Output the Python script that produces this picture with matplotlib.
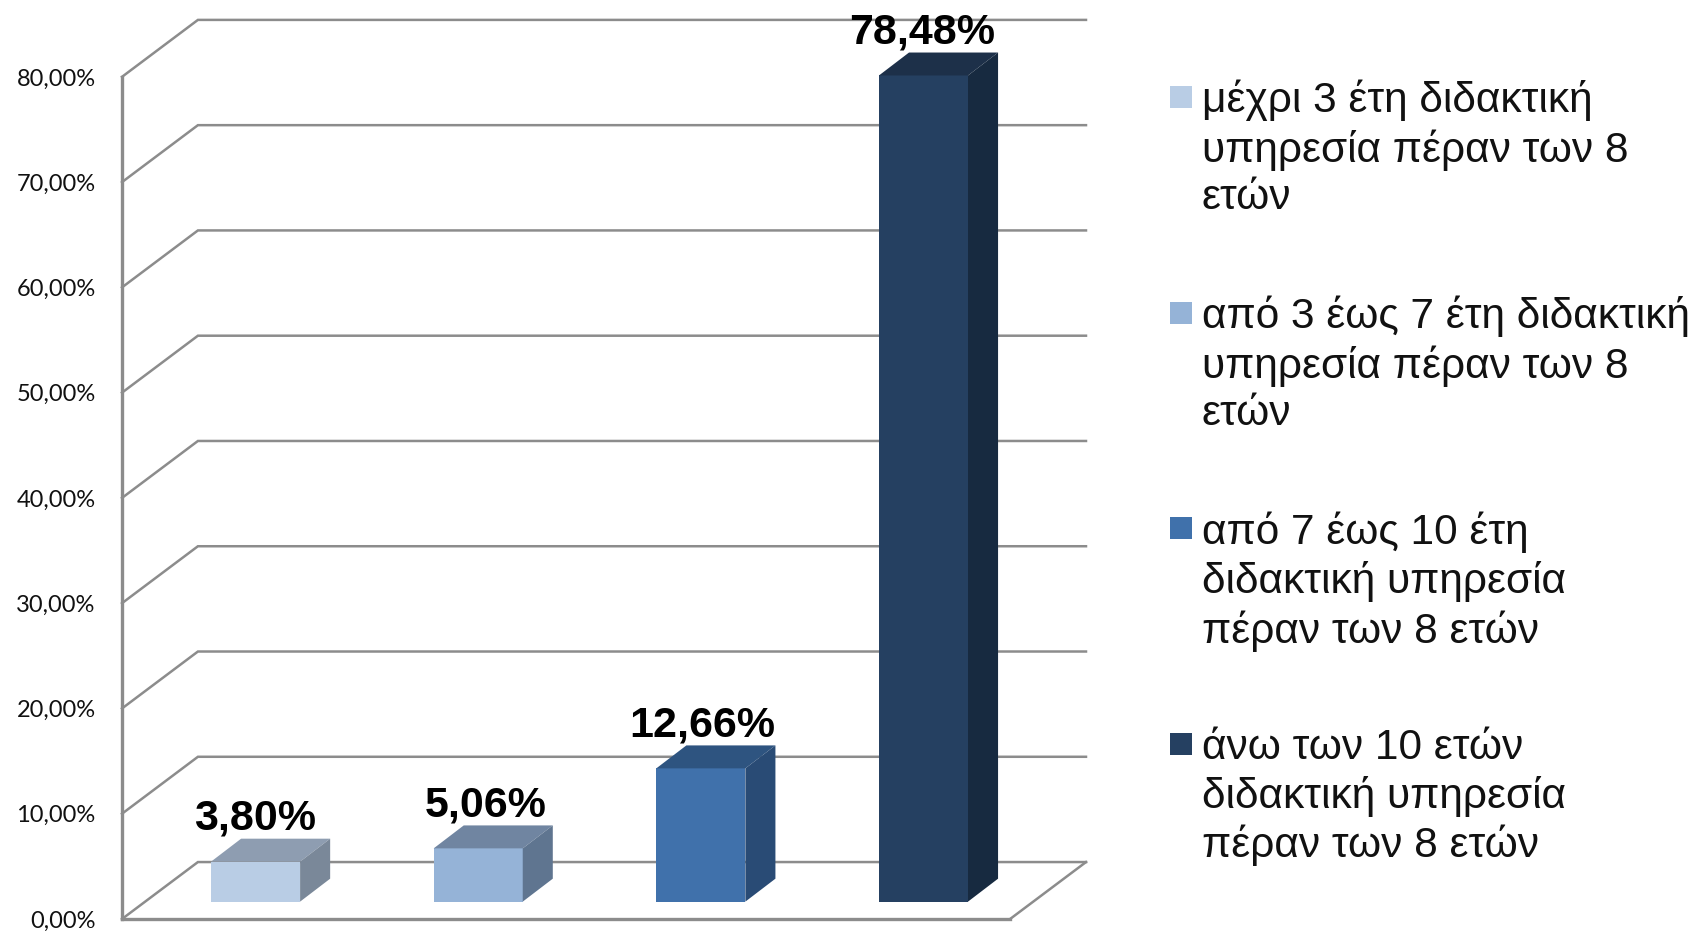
"""3D-look column chart with a Greek legend, drawn on plain 2D axes."""
import matplotlib
matplotlib.use('Agg')
import matplotlib.pyplot as plt
from matplotlib.patches import Polygon, Rectangle

# Data
categories = [
    'μέχρι 3 έτη διδακτική\nυπηρεσία πέραν των 8\nετών',
    'από 3 έως 7 έτη διδακτική\nυπηρεσία πέραν των 8\nετών',
    'από 7 έως 10 έτη\nδιδακτική υπηρεσία\nπέραν των 8 ετών',
    'άνω των 10 ετών\nδιδακτική υπηρεσία\nπέραν των 8 ετών',
]
values = [3.80, 5.06, 12.66, 78.48]
value_labels = ['3,80%', '5,06%', '12,66%', '78,48%']
y_ticks = [0, 10, 20, 30, 40, 50, 60, 70, 80]
y_tick_labels = ['0,00%', '10,00%', '20,00%', '30,00%', '40,00%',
                 '50,00%', '60,00%', '70,00%', '80,00%']

# Colours per bar: front, top, side
front_colors = ['#B9CDE5', '#95B3D7', '#4071AB', '#254061']
top_colors = ['#8E9DB1', '#7085A1', '#2E5480', '#1D3049']
side_colors = ['#7A8899', '#5F7590', '#294B75', '#172A40']
grid_color = '#8C8C8C'

W, H = 1699, 931
fig = plt.figure(figsize=(W / 100, H / 100), dpi=100)
ax = fig.add_axes([122 / W, 1 - 919 / H, (1086 - 122) / W, (919 - 20) / H])
ax.set_xlim(-0.60, 3.73)
ax.set_ylim(0, 85.4)

# depth of the floor and of the bars, in data units
floor_dx, floor_dy = 0.341, 5.41
bar_dx, bar_dy = 0.135, 2.18
bar_width = 0.40
bar_base = 1.65
label_nudge = [-0.003, 0.035, 0.005, -0.007]
x0, x1 = ax.get_xlim()

# gridlines run along the back wall and slant down to the front axis
for v in y_ticks:
    ax.plot([x0, x0 + floor_dx, x1], [v, v + floor_dy, v + floor_dy],
            color=grid_color, lw=1.8, solid_joinstyle='miter',
            clip_on=False, zorder=1)
ax.plot([x1, x1 - floor_dx], [floor_dy, 0], color=grid_color, lw=1.8,
        clip_on=False, zorder=1)

for i, v in enumerate(values):
    left, right = i - bar_width / 2, i + bar_width / 2
    bottom, top = bar_base, bar_base + v
    ax.add_patch(Rectangle((left, bottom), bar_width, v, fc=front_colors[i],
                           lw=0, zorder=3))
    ax.add_patch(Polygon([(left, top), (right, top),
                          (right + bar_dx, top + bar_dy),
                          (left + bar_dx, top + bar_dy)],
                         fc=top_colors[i], lw=0, zorder=3))
    ax.add_patch(Polygon([(right, bottom), (right + bar_dx, bottom + bar_dy),
                          (right + bar_dx, top + bar_dy), (right, top)],
                         fc=side_colors[i], lw=0, zorder=3))
    ax.text(i + label_nudge[i], top + 3.05, value_labels[i], ha='center',
            va='baseline', family='Liberation Sans', fontweight='bold',
            fontsize=31, color='black', zorder=4)

ax.set_facecolor('none')
ax.set_xticks([])
ax.set_yticks(y_ticks)
ax.set_yticklabels(y_tick_labels, family='Lato', fontsize=17, color='#111111',
                   va='center_baseline')
ax.tick_params(axis='y', length=0, pad=19)
for side in ['top', 'right']:
    ax.spines[side].set_visible(False)
for side in ['left', 'bottom']:
    ax.spines[side].set_color(grid_color)
    ax.spines[side].set_linewidth(2.4)
ax.spines['left'].set_bounds(0, 80)
ax.spines['bottom'].set_bounds(x0, x1 - floor_dx)

# legend: swatch sits on the first line of each wrapped label
for i, label in enumerate(categories):
    y_top = 86 + 215.5 * i
    fig.add_artist(Rectangle((1170 / W, 1 - (y_top + 22) / H), 22 / W, 22 / H,
                             transform=fig.transFigure, fc=front_colors[i],
                             lw=0))
    fig.text(1201.5 / W, 1 - (y_top - 6.5 + 0.6 * i) / H, label, ha='left',
             va='top', family='Liberation Sans', fontsize=30.5,
             linespacing=1.25, color='#111111')

fig.savefig('out.png', dpi=100)
print("Saved out.png")
